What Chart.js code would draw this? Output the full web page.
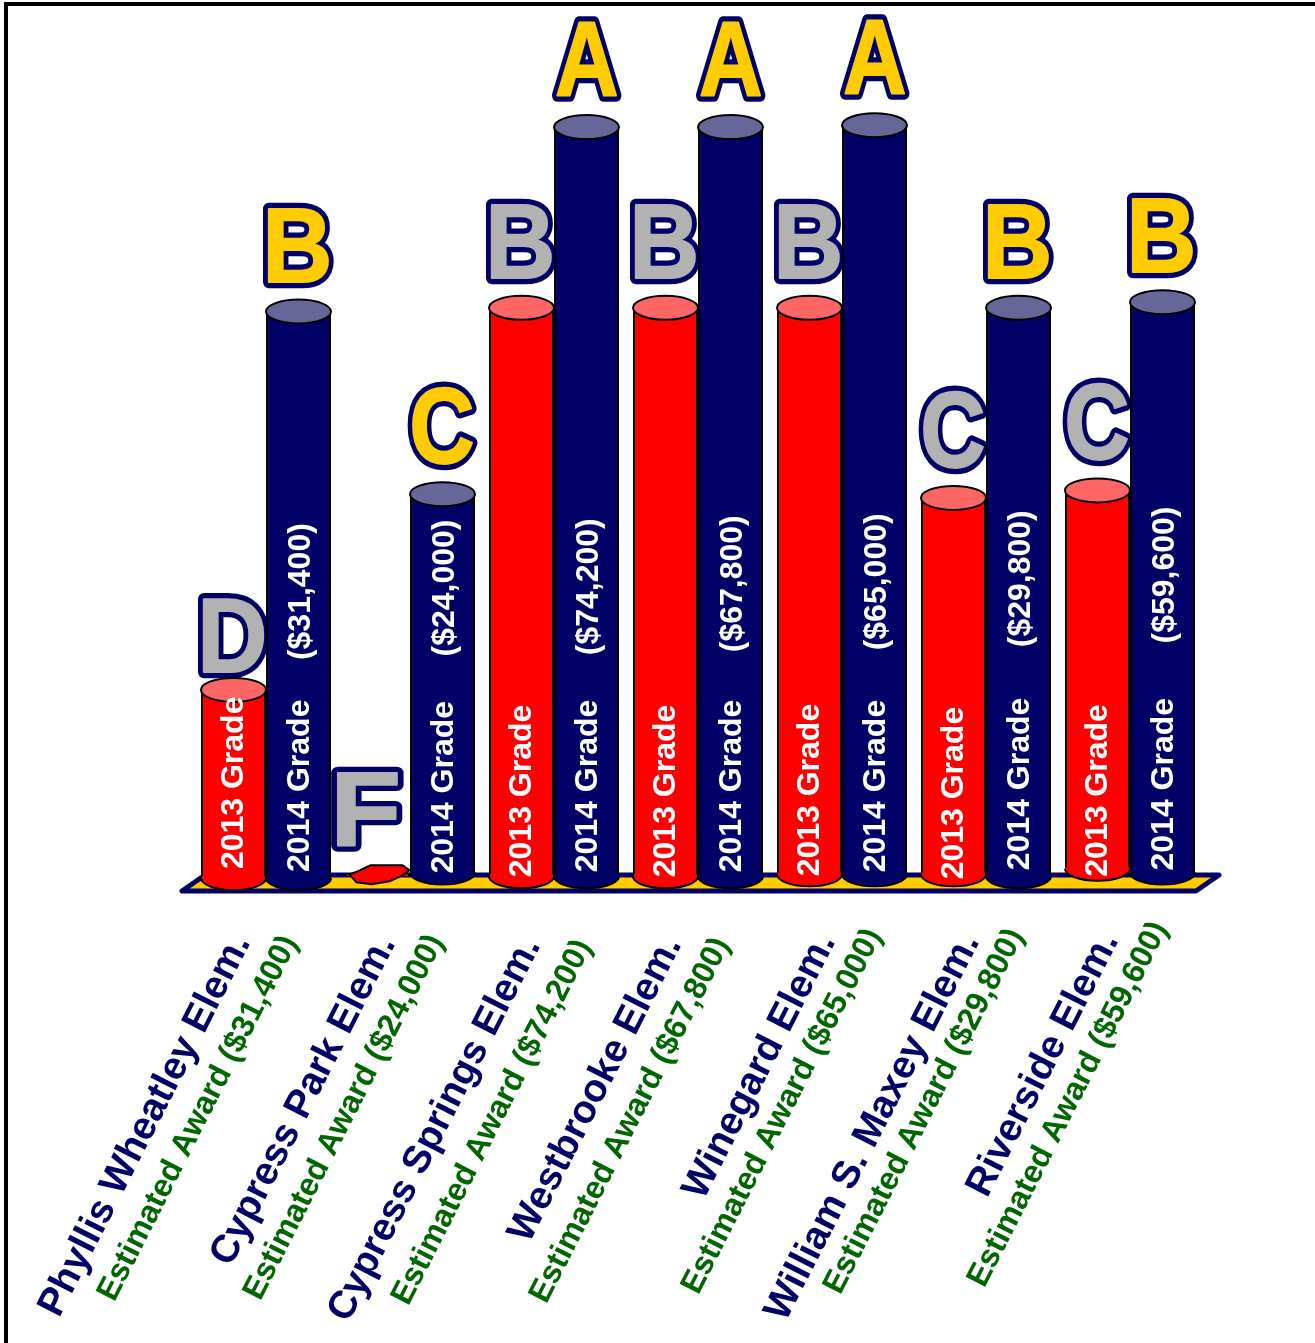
<!DOCTYPE html>
<html>
<head>
<meta charset="utf-8">
<style>html,body{margin:0;padding:0;background:#fff}canvas{display:block}</style>
<script src="https://cdn.jsdelivr.net/npm/chart.js@4"></script>
</head>
<body>
<canvas id="c" width="1315" height="1343"></canvas>
<script>
const schools = ["Phyllis Wheatley Elem.","Cypress Park Elem.","Cypress Springs Elem.","Westbrooke Elem.","Winegard Elem.","William S. Maxey Elem.","Riverside Elem."];
const awards = ["$31,400","$24,000","$74,200","$67,800","$65,000","$29,800","$59,600"];
const letters2013 = ["D","F","B","B","B","C","C"];
const letters2014 = ["B","C","A","A","A","B","B"];
const top2013 = [1.01,0.03,3.04,3.04,3.04,2.03,2.07];
const top2014 = [3.02,2.05,4.00,4.00,4.01,3.04,3.07];
const base2013 = [0.01,0.02,0.02,0.02,0.03,0.03,0.06];
const base2014 = [0.01,0.04,0.02,0.02,0.03,0.02,0.04];

const NAVY="#000066", RED="#FF0000", GOLD="#FFCC00", GREY="#B2B2B2", GREEN="#006600";
const FONT="'Liberation Sans', Arial, sans-serif";

function drawLetter(ctx, ch, cx, bottom, fill){
  ctx.save();
  ctx.font="bold 110px "+FONT;
  const m=ctx.measureText(ch);
  const w=m.actualBoundingBoxLeft+m.actualBoundingBoxRight;
  const h=m.actualBoundingBoxAscent+m.actualBoundingBoxDescent;
  const sx=60/w, sy=(ch==="C"?76:73)/h;
  ctx.translate(cx,bottom);
  ctx.scale(sx,sy);
  const ox=(m.actualBoundingBoxLeft-m.actualBoundingBoxRight)/2;
  const oy=-m.actualBoundingBoxDescent;
  ctx.textAlign="left"; ctx.textBaseline="alphabetic";
  ctx.lineJoin="round";
  ctx.strokeStyle=NAVY; ctx.lineWidth=13; ctx.strokeText(ch,ox,oy);
  ctx.strokeStyle=fill; ctx.lineWidth=2; ctx.strokeText(ch,ox,oy);
  ctx.fillStyle=fill; ctx.fillText(ch,ox,oy);
  ctx.restore();
}

// small hand-placed nudges for the captions, which do not sit evenly in the reference
const nameNudge=[[-9,2],[-8,3],[-7,5],[-10,4],[0,1],[0,1],[-5,0]];
const awardNudge=[[-8,2],[-6,1],[-2,6],[-8,4],[0,-5],[-2,-5],[-2,-12]];
const textNudge2013=[-10,0,0,0,1,4,7];
const textNudge2014=[-2,5,0,0,2,-2,2];
const textNudgeAward=[0,2,-3,-6,-6,-11,-11];

const cylinderPlugin={
  id:"cylinders",
  beforeDatasetsDraw(chart){
    const ctx=chart.ctx, xs=chart.scales.x, ys=chart.scales.y;
    // frame
    ctx.save();
    ctx.fillStyle="#000";
    ctx.fillRect(4,2,1311,4);
    ctx.fillRect(4,2,4,1341);
    // floor
    const y0=ys.getPixelForValue(0);
    ctx.beginPath();
    ctx.moveTo(xs.left-12,y0+11);
    ctx.lineTo(xs.right-6,y0+11);
    ctx.lineTo(xs.right+17,y0-5);
    ctx.lineTo(xs.left+11,y0-5);
    ctx.closePath();
    ctx.fillStyle=GOLD; ctx.fill();
    ctx.strokeStyle=NAVY; ctx.lineWidth=5; ctx.lineJoin="round"; ctx.stroke();
    ctx.restore();
    // big grade letters sit behind the cylinders
    [[0,letters2013,GREY],[1,letters2014,GOLD]].forEach(([d,arr,fill])=>{
      chart.getDatasetMeta(d).data.forEach((bar,i)=>{
        const ch=arr[i];
        const lift= ch==="D"?18:(ch==="F"?28:30);
        const dx= ch==="F"?-10:0;
        drawLetter(ctx,ch,bar.x+dx,bar.y-lift,fill);
      });
    });
  },
  afterDatasetDraw(chart,args){
    const ctx=chart.ctx, d=args.index;
    const side=d===0?RED:NAVY, cap=d===0?"#FF6666":"#666699";
    chart.getDatasetMeta(d).data.forEach((bar,i)=>{
      const rx=bar.width/2, ry=12;
      ctx.save();
      ctx.strokeStyle="#000"; ctx.lineWidth=2;
      if(d===0 && letters2013[i]==="F"){
        // a zero-height cylinder: flattened puddle on the floor
        const pts=[[-28,0],[-20,-3],[-7,-9],[25,-9],[32,-4],[25,1],[12,7],[-6,10],[-21,8]];
        ctx.beginPath();
        pts.forEach((p,k)=>{k?ctx.lineTo(bar.x+p[0],bar.y+p[1]):ctx.moveTo(bar.x+p[0],bar.y+p[1]);});
        ctx.closePath();
        ctx.fillStyle=RED; ctx.fill(); ctx.stroke();
        ctx.restore();
        return;
      }
      // rounded bottom
      ctx.beginPath();
      ctx.ellipse(bar.x,bar.base,rx,ry,0,0,Math.PI);
      ctx.fillStyle=side; ctx.fill(); ctx.stroke();
      ctx.fillRect(bar.x-rx+1,bar.base-2,bar.width-2,3);
      // top cap
      ctx.beginPath();
      ctx.ellipse(bar.x,bar.y,rx,ry,0,0,Math.PI*2);
      ctx.fillStyle=cap; ctx.fill(); ctx.stroke();
      ctx.restore();
    });
  },
  afterDatasetsDraw(chart){
    const ctx=chart.ctx, xs=chart.scales.x;
    // vertical text on the cylinders
    const vtext=(t,x,y)=>{
      ctx.save();
      ctx.translate(x,y); ctx.rotate(-Math.PI/2);
      ctx.font="bold 32px "+FONT;
      ctx.textAlign="left"; ctx.textBaseline="middle"; ctx.fillStyle="#fff";
      ctx.fillText(t,0,0);
      ctx.restore();
    };
    chart.getDatasetMeta(0).data.forEach((bar,i)=>{
      if(letters2013[i]==="F") return;
      vtext("2013 Grade",bar.x+1,bar.base+1+textNudge2013[i]);
    });
    chart.getDatasetMeta(1).data.forEach((bar,i)=>{
      vtext("2014 Grade",bar.x+2,bar.base-4+textNudge2014[i]);
      vtext("("+awards[i]+")",bar.x+3,bar.base-218+textNudgeAward[i]);
    });
    // slanted category captions
    const rtext=(t,x,y,font,col)=>{
      ctx.save();
      ctx.translate(x,y); ctx.rotate(-63*Math.PI/180);
      ctx.font=font; ctx.textAlign="right"; ctx.textBaseline="alphabetic"; ctx.fillStyle=col;
      ctx.fillText(t,0,0);
      ctx.restore();
    };
    schools.forEach((s,i)=>{
      const x=xs.getPixelForValue(i);
      rtext(s,x-6+nameNudge[i][0],940+nameNudge[i][1],"bold 39px "+FONT,NAVY);
      rtext("Estimated Award ("+awards[i]+")",x+40+awardNudge[i][0],940+awardNudge[i][1],"bold 32px "+FONT,GREEN);
    });
  }
};

new Chart(document.getElementById("c"),{
  type:"bar",
  data:{
    labels:schools,
    datasets:[
      {label:"2013 Grade",data:top2013.map((v,i)=>[base2013[i],v]),backgroundColor:RED,borderColor:"#000",borderWidth:{left:2,right:2,top:0,bottom:0},borderSkipped:false},
      {label:"2014 Grade",data:top2014.map((v,i)=>[base2014[i],v]),backgroundColor:NAVY,borderColor:"#000",borderWidth:{left:2,right:2,top:0,bottom:0},borderSkipped:false}
    ]
  },
  options:{
    responsive:false,animation:false,devicePixelRatio:1,
    layout:{padding:{left:194,right:113,top:33,bottom:463}},
    categoryPercentage:130/144,barPercentage:1,
    plugins:{legend:{display:false},tooltip:{enabled:false}},
    scales:{
      x:{display:false,grid:{display:false}},
      y:{display:false,min:0,max:4.5,grid:{display:false}}
    }
  },
  plugins:[cylinderPlugin]
});
</script>
</body>
</html>
